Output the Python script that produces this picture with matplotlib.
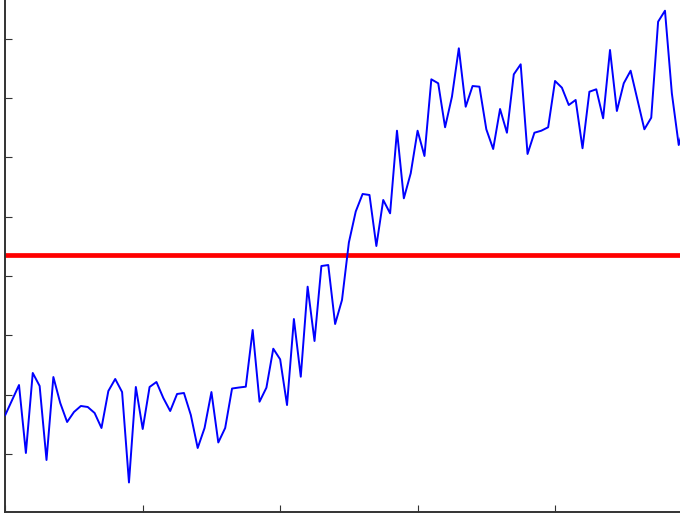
import numpy as np
import matplotlib
matplotlib.use("Agg")
import matplotlib.pyplot as plt

# Noisy step signal, one sample per time index
signal = [
    1.658, 1.911, 2.163, 1.018, 2.366, 2.147, 0.900, 2.298, 1.860, 1.540,
    1.709, 1.810, 1.793, 1.692, 1.439, 2.062, 2.265, 2.045, 0.521, 2.130,
    1.422, 2.130, 2.214, 1.944, 1.725, 2.012, 2.029, 1.658, 1.102, 1.439,
    2.045, 1.195, 1.439, 2.104, 2.121, 2.135, 3.090, 1.882, 2.118, 2.775,
    2.596, 1.826, 3.275, 2.303, 3.820, 2.905, 4.168, 4.185, 3.191, 3.596,
    4.564, 5.087, 5.382, 5.365, 4.505, 5.281, 5.056, 6.448, 5.309, 5.730,
    6.448, 6.022, 7.314, 7.247, 6.506, 7.021, 7.837, 6.852, 7.201, 7.190,
    6.472, 6.140, 6.814, 6.414, 7.398, 7.567, 6.056, 6.414, 6.448, 6.506,
    7.286, 7.173, 6.881, 6.966, 6.152, 7.105, 7.146, 6.657, 7.808, 6.780,
    7.247, 7.459, 6.966, 6.472, 6.667, 8.285, 8.470, 7.078, 6.207, 6.630,
]
time_index = np.arange(len(signal))

# Decision threshold drawn across the whole axis
threshold = 4.354

x_ticks = [0, 20, 40, 60, 80, 100]
y_ticks = [1, 2, 3, 4, 5, 6, 7, 8, 9]

W, H = 680, 516
fig = plt.figure(figsize=(W / 100, H / 100), dpi=100)
fig.patch.set_facecolor("white")

x_min, x_max = 0, 100
y_min, y_max = 0.0236, 9.0
px_per_x = 6.872
px_per_y = 59.35
left_px, bottom_px = 5.27, 4.0
ax = fig.add_axes([
    left_px / W,
    bottom_px / H,
    (x_max - x_min) * px_per_x / W,
    (y_max - y_min) * px_per_y / H,
])

ax.plot(time_index, signal, color="#0000ff", linewidth=1.4, zorder=3)
ax.axhline(threshold, color="#ff0000", linewidth=3.4, zorder=2)

ax.set_xlim(x_min, x_max)
ax.set_ylim(y_min, y_max)
ax.set_xticks(x_ticks)
ax.set_yticks(y_ticks)
ax.set_xticklabels([])
ax.set_yticklabels([])
ax.tick_params(direction="in", length=5, width=0.8, color="#333333",
               top=True, right=True)
for side in ("left", "bottom", "top", "right"):
    ax.spines[side].set_linewidth(1.4)
    ax.spines[side].set_color("#333333")

fig.savefig("out.png", dpi=100, facecolor="white")
